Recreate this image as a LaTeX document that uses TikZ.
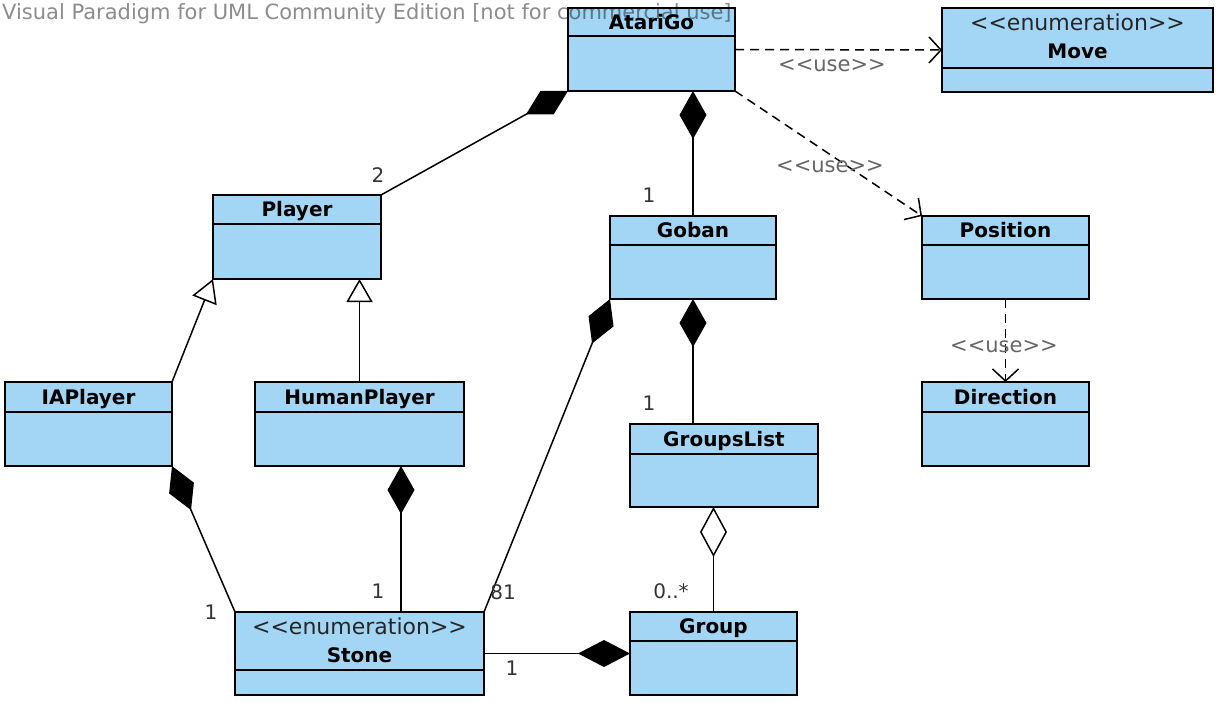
\documentclass[tikz,border=0pt]{standalone}
\usepackage{fontspec}
\setmainfont{DejaVu Sans}
\usetikzlibrary{arrows.meta}

\definecolor{classfill}{RGB}{163,214,245}

% class box with a title compartment
\newcommand{\umlclass}[6]{%
  \node[classbox, minimum width=#3pt, minimum height=#4pt] (#1) at (#2) {};
  \draw[line width=2pt] (#1.north west) ++(0,#5) -- ++(#3,0);
  \path (#1.north) ++(0,#5/2+7.3) node[classname] {#6};
}
% enumeration box, two lines in the title
\newcommand{\umlenum}[6]{%
  \node[classbox, minimum width=#3pt, minimum height=#4pt] (#1) at (#2) {};
  \draw[line width=2pt] (#1.north west) ++(0,#5) -- ++(#3,0);
  \path (#1.north) ++(0,22.3) node[stereo] {<{}<enumeration>{}>};
  \path (#1.north) ++(0,50.3) node[classname] {#6};
}

\begin{document}
\begin{tikzpicture}[x=1pt, y=-1pt,
    classbox/.style={draw, fill=classfill, line width=2pt, rectangle, inner sep=0pt, outer sep=0pt, anchor=north west},
    classname/.style={font=\bfseries\fontsize{20}{24}\selectfont, inner sep=0pt, anchor=base},
    stereo/.style={font=\fontsize{22}{26}\selectfont, inner sep=0pt, anchor=base, text=black!85},
    mult/.style={font=\fontsize{20}{24}\selectfont, text=black!80, inner sep=0pt},
    uselabel/.style={font=\fontsize{21}{25}\selectfont, text=black!60, inner sep=0pt},
    watermark/.style={font=\fontsize{21}{25}\selectfont, text=black, text opacity=0.45, inner sep=0pt, anchor=base west},
    assoc/.style={line width=1.5pt},
    compo/.style={assoc, arrows={Diamond[length=48pt, width=27pt]-}},
    aggr/.style={assoc, arrows={Diamond[open, fill=white, length=50pt, width=27pt]-}},
    gen/.style={assoc, arrows={-Triangle[open, fill=white, length=23pt, width=26pt]}},
    dep/.style={line width=1.5pt, dash pattern=on 9pt off 6pt, arrows={-Straight Barb[length=12pt, width=26pt]}}
]
\fill[white] (0,0) rectangle (1223,703);
\useasboundingbox (0,0) rectangle (1223,703);

% classes
\umlclass{atarigo}{568,8}{167}{83}{28}{AtariGo}
\umlenum{move}{942,8}{271}{84}{60}{Move}
\umlclass{player}{213,195}{168}{84}{29}{Player}
\umlclass{goban}{610,216}{166}{83}{29}{Goban}
\umlclass{position}{922,216}{167}{83}{29}{Position}
\umlclass{direction}{922,382}{167}{84}{30}{Direction}
\umlclass{iaplayer}{5,382}{167}{84}{30}{IAPlayer}
\umlclass{humanplayer}{255,382}{209}{84}{30}{HumanPlayer}
\umlclass{groupslist}{630,424}{188}{83}{30}{GroupsList}
\umlenum{stone}{235,612}{249}{83}{58}{Stone}
\umlclass{group}{630,612}{167}{83}{29}{Group}

% compositions
\draw[compo] (atarigo.south west) -- (player.north east);
\draw[compo] (goban.north |- atarigo.south) -- (goban.north);
\draw[compo] (goban.south) -- (goban.south |- groupslist.north);
\draw[compo] (goban.south west) -- (stone.north east);
\draw[compo] (iaplayer.south east) -- (stone.north west);
\draw[compo] ([xshift=41.5pt]humanplayer.south) -- ([xshift=41.5pt]stone.north);
\draw[assoc, arrows={-Diamond[length=52pt, width=27pt]}] (stone.east) -- (group.west);
\draw[aggr] (group.north |- groupslist.south) -- (group.north);

% inheritance
\draw[gen] (iaplayer.north east) -- (player.south west);
\draw[gen] (humanplayer.north) -- (humanplayer.north |- player.south);

% uses
\draw[dep] (atarigo.east) -- (move.west);
\draw[dep] (atarigo.south east) -- (position.north west);
\draw[dep] (position.south) -- (direction.north);

% multiplicities
\node[mult] (m-player) at (378,175) {2};
\node[mult] (m-goban) at (649,195) {1};
\node[mult] (m-groupslist) at (649,403) {1};
\node[mult] (m-iastone) at (211,612) {1};
\node[mult] (m-humanstone) at (378,591) {1};
\node[mult] (m-gobanstone) at (503,592) {81};
\node[mult] (m-group) at (671,591) {0..*};
\node[mult] (m-stonegroup) at (512,668) {1};

\node[uselabel] (u-move) at (832,66) {<{}<use>{}>};
\node[uselabel] (u-position) at (830,167) {<{}<use>{}>};
\node[uselabel] (u-direction) at (1004,347) {<{}<use>{}>};

\node[watermark] (wm) at (2,20) {Visual Paradigm for UML Community Edition [not for commercial use]};
\end{tikzpicture}
\end{document}
